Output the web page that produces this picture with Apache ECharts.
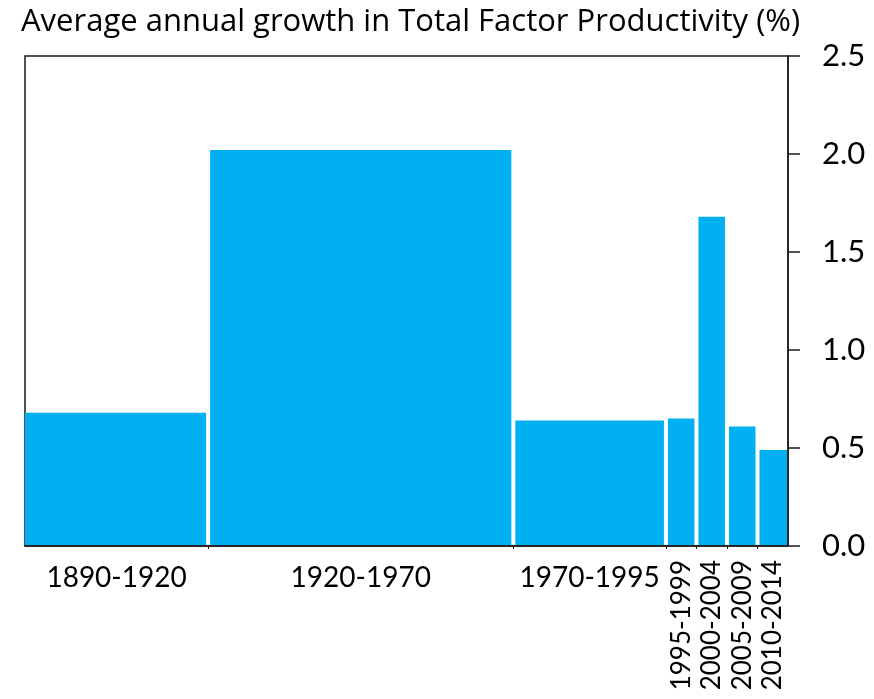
<!DOCTYPE html>
<html>
<head>
<meta charset="utf-8">
<script src="https://cdn.jsdelivr.net/npm/echarts@6/dist/echarts.min.js"></script>
<style>
html,body{margin:0;padding:0;background:#fff;}
#chart{width:874px;height:699px;}
</style>
</head>
<body>
<div id="chart"></div>
<script>
// ---- data ----
var titleText = 'Average annual growth in Total Factor Productivity (%)';
var periods = ['1890-1920', '1920-1970', '1970-1995', '1995-1999', '2000-2004', '2005-2009', '2010-2014'];
var startYear = [1890, 1920, 1970, 1995, 2000, 2005, 2010];
var endYear = [1920, 1970, 1995, 2000, 2005, 2010, 2015];
var tfpGrowth = [0.68, 2.02, 0.64, 0.65, 1.68, 0.61, 0.49];
var yTicks = [0.0, 0.5, 1.0, 1.5, 2.0, 2.5];

var FONT = 'Lato';
var seriesData = periods.map(function (p, i) {
  return [startYear[i], endYear[i], tfpGrowth[i], i];
});
var boundaries = startYear.slice(1);

var chart = echarts.init(document.getElementById('chart'), null, {renderer: 'canvas'});
chart.setOption({
  animation: false,
  backgroundColor: '#fff',
  title: {
    text: titleText,
    left: 16, top: 2,
    textStyle: {fontFamily: 'Open Sans', fontSize: 31, fontWeight: 'normal', color: '#000'}
  },
  grid: {
    left: 25, right: 86, top: 56, bottom: 153,
    show: true, borderColor: '#1a1a1a', borderWidth: 1.5
  },
  xAxis: {
    type: 'value',
    min: startYear[0],
    max: endYear[endYear.length - 1],
    splitLine: {show: false},
    axisLine: {show: true, onZero: false, lineStyle: {color: '#1a1a1a', width: 1.5}},
    axisTick: {show: true, customValues: boundaries, length: 3, lineStyle: {color: '#1a1a1a'}},
    axisLabel: {show: false}
  },
  yAxis: {
    type: 'value',
    position: 'right',
    min: yTicks[0], max: yTicks[yTicks.length - 1], interval: 0.5,
    splitLine: {show: false},
    axisLine: {show: true, lineStyle: {color: '#1a1a1a', width: 1.5}},
    axisTick: {show: true, length: 12, lineStyle: {color: '#1a1a1a', width: 1.5}},
    axisLabel: {
      margin: 34, fontFamily: FONT, fontSize: 31, color: '#000',
      formatter: function (v) { return v.toFixed(1); }
    }
  },
  series: [{
    type: 'custom',
    clip: false,
    encode: {x: [0, 1], y: 2},
    data: seriesData,
    renderItem: function (params, api) {
      var i = api.value(3);
      var p0 = api.coord([api.value(0), 0]);
      var p1 = api.coord([api.value(1), api.value(2)]);
      var n = periods.length;
      var gap = 2;
      var x0 = p0[0] + (i === 0 ? 0 : gap);
      var x1 = p1[0] - (i === n - 1 ? 1 : gap);
      var yTop = p1[1];
      var yBot = p0[1] - 1;
      var cx = (p0[0] + p1[0]) / 2;
      var span = api.value(1) - api.value(0);
      var horiz = span >= 25;
      var label = horiz ? {
        type: 'text',
        x: cx, y: p0[1] + 18,
        style: {text: periods[i], fontFamily: FONT, fontSize: 28, fill: '#000',
                align: 'center', verticalAlign: 'top'}
      } : {
        type: 'text',
        x: cx, y: p0[1] + 14,
        rotation: Math.PI / 2,
        style: {text: periods[i], fontFamily: FONT, fontSize: 26, fill: '#000',
                align: 'right', verticalAlign: 'middle'}
      };
      return {
        type: 'group',
        children: [
          {type: 'rect', shape: {x: x0, y: yTop, width: x1 - x0, height: yBot - yTop},
           style: {fill: '#00B0F0'}},
          label
        ]
      };
    }
  }]
});
</script>
</body>
</html>
